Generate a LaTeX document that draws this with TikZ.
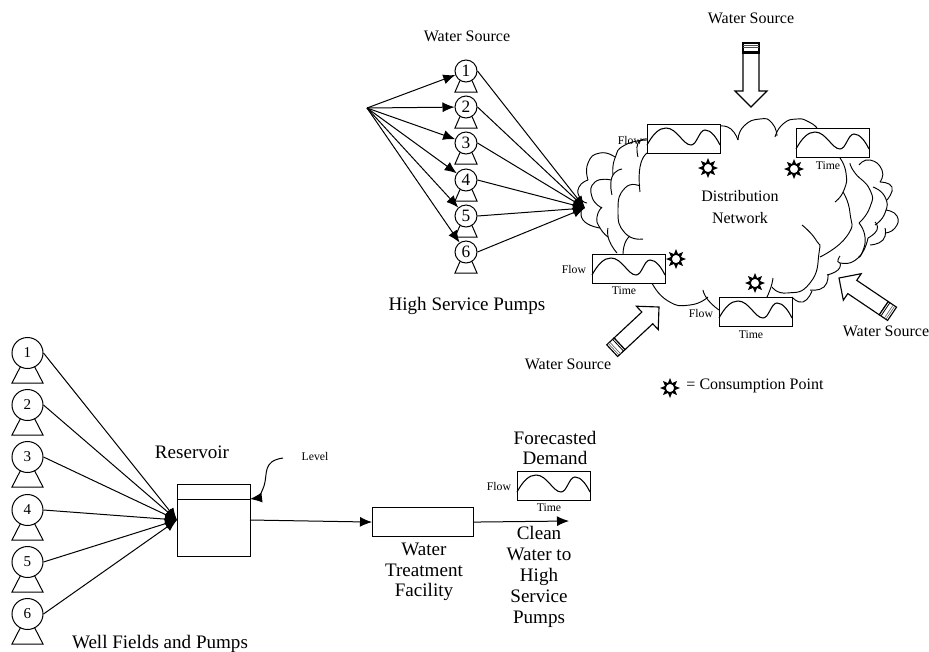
\documentclass[tikz,border=0pt]{standalone}
\usepackage{fontspec}
\setmainfont{Liberation Serif}
\usetikzlibrary{arrows.meta}
\tikzset{
  txtS/.style={font=\fontsize{8.8pt}{10pt}\selectfont,inner sep=0pt},
  txtM/.style={font=\fontsize{12pt}{14pt}\selectfont,inner sep=0pt,align=center},
  txtL/.style={font=\fontsize{14.3pt}{15.6pt}\selectfont,inner sep=0pt,align=center},
  conn/.style={line width=0.75pt},
  arr/.style={conn,-{Latex[length=9pt,width=7.5pt]}},
  upump/.style={circle,draw,line width=0.75pt,minimum size=16.5pt,inner sep=0pt,font=\fontsize{13pt}{13pt}\selectfont},
  lpump/.style={circle,draw,line width=0.75pt,minimum size=23.25pt,inner sep=0pt,font=\fontsize{11.3pt}{12pt}\selectfont},
  fbox/.style={draw,fill=white,line width=0.9pt,minimum width=54.75pt,minimum height=21.75pt,inner sep=0pt},
  plainbox/.style={draw,line width=0.85pt,inner sep=0pt},
  cl/.style={line width=0.7pt,smooth,tension=1},
}
\newcommand{\flowbox}[3]{%
  \node[fbox,anchor=north west] (#1) at (#2,#3) {};
  \draw[line width=0.8pt,shift={(#2,#3)}] (0,21) .. controls (6,10) and (12,4) .. (19,4)
    .. controls (30,4) and (36,21) .. (44,21) .. controls (50,21) and (52,6) .. (58,6)
    .. controls (64,6) and (69,13) .. (73,21);}
\newcommand{\sunmark}[2]{%
  \begin{scope}[shift={(#1,#2)}]
    \foreach \a in {0,45,...,315} {\fill[rotate=\a] (3,-2.8) -- (10,0) -- (3,2.8) -- cycle;}
    \draw[fill=white,line width=1.2pt] (0,0) circle[radius=5];
  \end{scope}}
\newcommand{\srcarrow}[3]{%
  \begin{scope}[shift={(#1,#2)},rotate=#3,line width=0.85pt]
    \draw[fill=white] (0,0) -- (-16,16) -- (-16,8) -- (-54,8) -- (-54,-8) -- (-16,-8) -- (-16,-16) -- cycle;
    \draw[fill=white] (-64,-8) rectangle (-54,8);
    \draw[line width=0.4pt,black!70] (-62,-8) -- (-62,8);
    \draw[line width=0.4pt,black!70] (-60,-8) -- (-60,8);
    \draw[line width=0.6pt] (-56,-8) -- (-56,8);
  \end{scope}}
\begin{document}
\begin{tikzpicture}[x=0.75pt,y=-0.75pt]
\useasboundingbox (0,0) rectangle (929,651);

% ---------- cloud ----------
\draw[cl] plot coordinates {(721,126) (731,129) (738,140)};
\draw[cl] plot coordinates {(738,140) (744,126) (760,119) (772,123) (777,136)};
\draw[cl] plot coordinates {(775,137) (783,124) (797,119) (809,122) (817,128)};
\draw[cl] plot coordinates {(840,158) (846,173) (844,190) (835,202)};
\draw[cl] plot coordinates {(843,192) (850,213) (847,236) (820,257)};
\draw[cl] plot coordinates {(802,225) (816,240) (819,253) (810,283) (787,293) (772,287)};
\draw[cl] plot coordinates {(773,278) (771,287) (767,297)};
\draw[cl] plot coordinates {(792,297) (803,302) (812,291)};
\draw[cl] plot coordinates {(810,290) (824,287) (828,274)};
\draw[cl] plot coordinates {(827,275) (838,270) (840,263)};
\draw[cl] plot coordinates {(840,256) (840,263) (858,258) (868,238)};
\draw[cl] plot coordinates {(850,163) (855,173) (870,190) (870,207) (859,223)};
\draw[cl] plot coordinates {(859,223) (865,237) (862,253) (858,257)};
\draw[cl] plot coordinates {(859,165) (870,160) (882,170) (880,182)};
\draw[cl] plot coordinates {(880,182) (892,187) (887,200)};
\draw[cl] plot coordinates {(873,187) (885,197) (885,213) (875,225)};
\draw[cl] plot coordinates {(886,210) (897,216) (895,228) (885,233)};
\draw[cl] plot coordinates {(885,228) (883,240) (870,245)};
\draw[cl] plot coordinates {(875,222) (877,230) (868,238)};
\draw[cl] plot coordinates {(647,139) (638,143) (638,157)};
\draw[cl] plot coordinates {(647,140) (625,145) (615,158) (613,175)};
\draw[cl] plot coordinates {(615,157) (600,153) (588,163) (588,180)};
\draw[cl] plot coordinates {(588,180) (579,187) (580,198) (587,203)};
\draw[cl] plot coordinates {(583,205) (583,220) (600,228)};
\draw[cl] plot coordinates {(622,169) (612,177) (612,195)};
\draw[cl] plot coordinates {(611,180) (595,182) (592,197) (602,208)};
\draw[cl] plot coordinates {(602,207) (597,217) (600,228) (608,237)};
\draw[cl] plot coordinates {(608,228) (609,240) (617,253)};
\draw[cl] plot coordinates {(647,153) (640,167) (640,192)};
\draw[cl] plot coordinates {(640,186) (625,188) (618,210) (625,233) (643,239)};
\draw[cl] plot coordinates {(630,236) (625,243) (623,254)};
\draw[cl] plot coordinates {(652,283) (668,301) (690,305) (708,297)};
\draw[cl] plot coordinates {(703,290) (708,300) (719,310)};

% ---------- flow boxes ----------
\flowbox{fa}{647}{124}
\flowbox{fb}{796}{128}
\flowbox{fc}{592}{254}
\flowbox{fd}{719}{297}
\flowbox{fe}{517}{471}

\node[txtS] (la) at (630,140) {Flow};
\node[txtS] (lb) at (828,166) {Time};
\node[txtS] (lc) at (574,269) {Flow};
\node[txtS] (ld) at (624,291) {Time};
\node[txtS] (le) at (701,313) {Flow};
\node[txtS] (lf) at (751,335) {Time};
\node[txtS] (lg) at (499,486) {Flow};
\node[txtS] (lh) at (549,508) {Time};

\sunmark{708}{168}
\sunmark{794}{169}
\sunmark{676}{259}
\sunmark{755}{283}
\sunmark{670}{388}

\srcarrow{751}{107}{-90}
\srcarrow{839}{278}{146}
\srcarrow{659}{307}{43}

% ---------- high service pumps ----------
\coordinate (usrc) at (367,108);
\coordinate (uout) at (585,208);
\foreach \n/\y in {1/71,2/107,3/143,4/180,5/216,6/252} {
  \node[upump] (u\n) at (466,\y) {\n};
  \draw[conn,shift={(u\n.center)}] (-6,9.5) -- (-11,21) -- (11,21) -- (6,9.5);
  \draw[arr] (usrc) -- (u\n);
  \draw[arr] (u\n.east) -- (uout);
}

% ---------- well field pumps ----------
\coordinate (wout) at (177,520);
\foreach \n/\y in {1/353,2/405,3/457,4/510,5/562,6/614} {
  \node[lpump] (w\n) at (27.5,\y) {\n};
  \draw[conn,shift={(w\n.center)}] (-7,13.5) -- (-15.5,30) -- (15.5,30) -- (7,13.5);
  \draw[arr] (w\n.east) -- (wout);
}

% ---------- plant ----------
\node[plainbox,minimum width=54.75pt,minimum height=54pt,anchor=north west] (res) at (177,484) {};
\coordinate (resl) at (177,499);
\coordinate (resr) at (250,499);
\draw[conn] (resl) -- (resr);
\node[plainbox,minimum width=75.75pt,minimum height=21.75pt,anchor=north west] (wtf) at (372,507) {};
\coordinate (resout) at (250,520);
\coordinate (clean) at (569,521);
\draw[arr] (resout) -- (wtf.west);
\draw[arr] (wtf.east) -- (clean);
\coordinate (lvl) at (283,458);
\draw[arr] (lvl) .. controls (262,461) and (268,474) .. (264,486) .. controls (261,494) and (258,498) .. (resr);

% ---------- text ----------
\node[txtM] (t1) at (751,18) {Water Source};
\node[txtM] (t2) at (467,36) {Water Source};
\node[txtL] (t3) at (467,306) {High Service Pumps};
\node[txtM] (t4) at (740,207) {Distribution\\[2pt]Network};
\node[txtM] (t5) at (568,364) {Water Source};
\node[txtM] (t6) at (886,331) {Water Source};
\node[txtM] (t7) at (755,386) {= Consumption Point};
\node[txtL] (t8) at (192,452) {Reservoir};
\node[txtL] (t9) at (160,644) {Well Fields and Pumps};
\node[txtS] (t10) at (315,456) {Level};
\node[txtL] (t11) at (424,572) {Water\\Treatment\\Facility};
\node[txtL] (t12) at (539,577) {Clean\\Water to\\High\\Service\\Pumps};
\node[txtL] (t13) at (555,448) {Forecasted\\Demand};
\end{tikzpicture}
\end{document}
